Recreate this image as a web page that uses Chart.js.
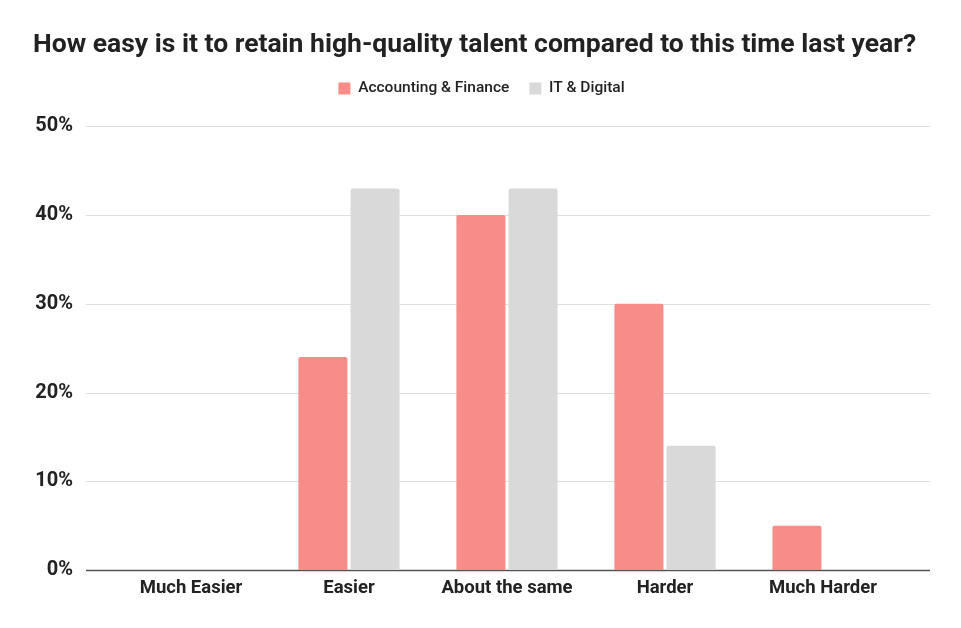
<!DOCTYPE html>
<html>
<head>
<meta charset="utf-8">
<script src="https://cdn.jsdelivr.net/npm/chart.js@4.4.0/dist/chart.umd.min.js"></script>
<style>
  html, body { margin: 0; padding: 0; background: #fff; }
  #wrap { width: 961px; height: 628px; }
</style>
</head>
<body>
<div id="wrap"><canvas id="talentChart"></canvas></div>
<script>
const categories = ["Much Easier", "Easier", "About the same", "Harder", "Much Harder"];
const accountingFinance = [0, 24, 40, 30, 5];
const itDigital = [0, 43, 43, 14, 0];
const yTicks = [0, 10, 20, 30, 40, 50];

// grid lines in the original run a bit past the first/last category
const extendedGrid = {
    id: "extendedGrid",
    beforeDatasetsDraw(chart) {
        const { ctx, chartArea, scales } = chart;
        ctx.save();
        yTicks.forEach(v => {
            const y = Math.round(scales.y.getPixelForValue(v)) + 0.5;
            ctx.beginPath();
            ctx.strokeStyle = v === 0 ? "#555555" : "#dedede";
            ctx.lineWidth = v === 0 ? 1.5 : 1.2;
            ctx.moveTo(chartArea.left - 26, y);
            ctx.lineTo(chartArea.right + 28, y);
            ctx.stroke();
        });
        ctx.restore();
    }
};

// empty axes used only as spacers (right side, and gap under the legend)
const spacer = (pos, size) => ({
    position: pos,
    display: true,
    grid: { display: false, drawTicks: false },
    border: { display: false },
    ticks: { display: false },
    afterFit: s => {
        if (pos === "top") s.height = size;
        else s.width = size;
    },
});

document.addEventListener("DOMContentLoaded", () => {
    Chart.defaults.font.family = "Roboto, 'Noto Sans', sans-serif";
    Chart.defaults.color = "#222222";

    new Chart(document.getElementById("talentChart"), {
        type: "bar",
        data: {
            labels: categories,
            datasets: [
                {
                    label: "Accounting & Finance",
                    data: accountingFinance,
                    backgroundColor: "#f78c89",
                    borderRadius: 2,
                    borderSkipped: "start",
                },
                {
                    label: "IT & Digital",
                    data: itDigital,
                    backgroundColor: "#d9d9d9",
                    borderRadius: 2,
                    borderSkipped: "start",
                },
            ],
        },
        options: {
            responsive: true,
            maintainAspectRatio: false,
            animation: false,
            categoryPercentage: 0.66,
            barPercentage: 0.94,
            layout: { padding: { left: 33, right: 31, top: 0, bottom: 0 } },
            plugins: {
                title: {
                    display: true,
                    text: "How easy is it to retain high-quality talent compared to this time last year?",
                    align: "start",
                    color: "#222222",
                    font: { size: 26.5, weight: "bold" },
                    padding: { top: 29, bottom: 0 },
                },
                legend: {
                    display: true,
                    position: "top",
                    labels: {
                        boxWidth: 12,
                        boxHeight: 12,
                        padding: 20,
                        color: "#222222",
                        font: { size: 15.5, weight: "500" },
                    },
                },
                tooltip: { enabled: false },
            },
            scales: {
                x: {
                    grid: { display: false, drawTicks: false },
                    border: { display: false },
                    ticks: {
                        padding: 7,
                        color: "#222222",
                        font: { size: 18.5, weight: "bold" },
                    },
                    afterFit: s => { s.height = 58; },
                },
                xTop: Object.assign({ type: "category" }, spacer("top", 20)),
                y: {
                    min: 0,
                    max: 50,
                    grid: { display: false, drawTicks: false },
                    border: { display: false },
                    afterBuildTicks: s => { s.ticks = yTicks.map(v => ({ value: v })); },
                    ticks: {
                        padding: 39,
                        color: "#222222",
                        font: { size: 20, weight: "bold" },
                        callback: v => v + "%",
                    },
                    afterFit: s => { s.width = 79; },
                },
                yRight: spacer("right", 28),
            },
        },
        plugins: [extendedGrid],
    });
});
</script>
</body>
</html>
